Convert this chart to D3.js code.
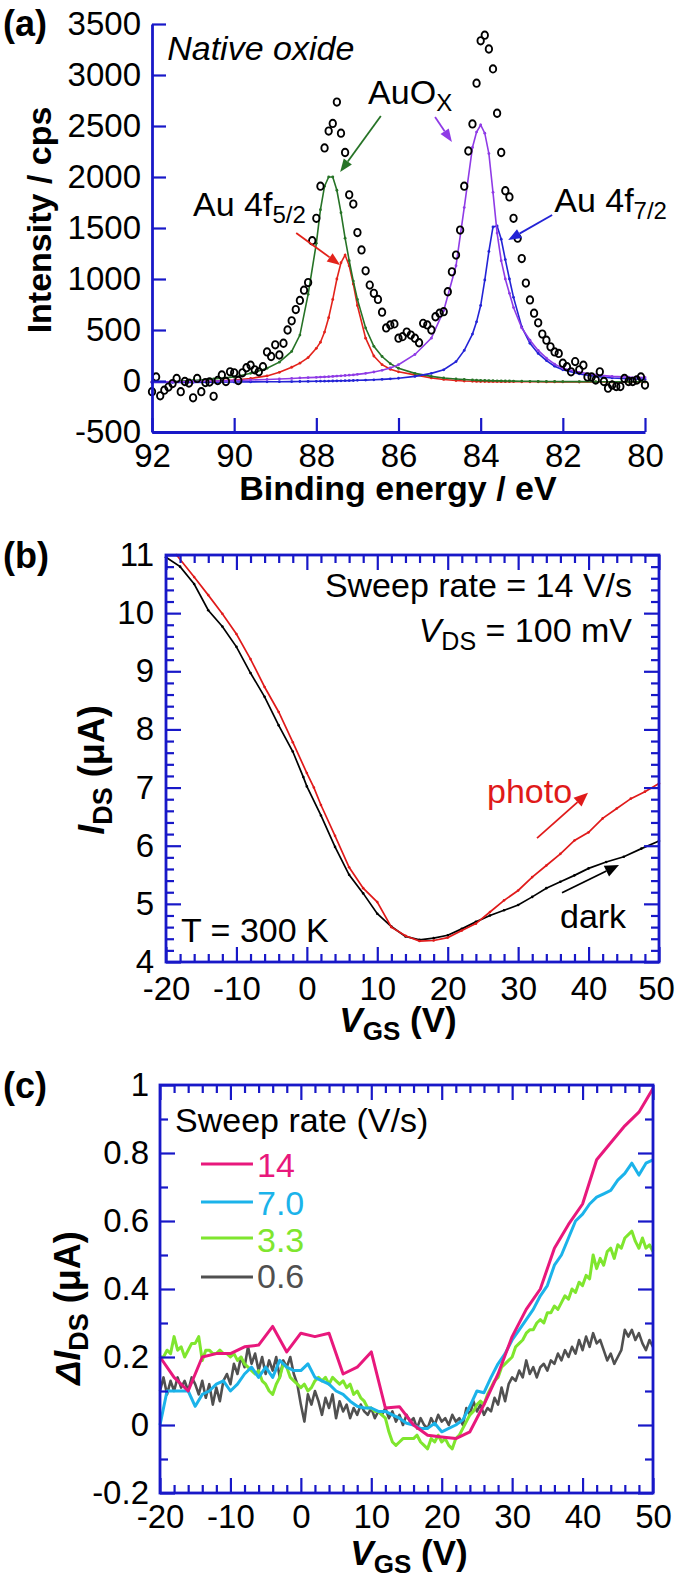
<!DOCTYPE html>
<html><head><meta charset="utf-8">
<script src="https://cdn.jsdelivr.net/npm/d3@7"></script>
<style>body{margin:0;background:#fff} svg{display:block} text{white-space:pre}</style>
</head><body>
<svg id="c" width="675" height="1580"></svg>
<script>
// ---------- Panel (a) data ----------
const aXTicks = [92, 90, 88, 86, 84, 82, 80];
const aYTicks = [-500, 0, 500, 1000, 1500, 2000, 2500, 3000, 3500];
const xpsStart = 92, xpsStep = -0.1;
const xpsCounts = [
  -105, 40, -145, -90, -60, -25, 25, -105, -5, -20,
  -165, 25, -105, -15, -10, -150, 5, 60, -5, 90,
  80, 5, 80, 130, 155, 110, 90, 140, 285, 240,
  355, 255, 370, 500, 590, 700, 790, 890, 965, 1375,
  1595, 1910, 2285, 2450, 2525, 2735, 2430, 2240, 1825, 1735,
  1455, 1285, 1080, 940, 860, 800, 675, 520, 550, 560,
  420, 435, 480, 450, 420, 375, 565, 550, 500, 630,
  665, 680, 875, 1070, 1235, 1480, 1910, 2255, 2520, 2920,
  3335, 3390, 3255, 3060, 2625, 2240, 1865, 1805, 1595, 1400,
  1200, 960, 795, 665, 570, 460, 400, 335, 285, 270,
  175, 140, 90, 190, 110, 155, 40, 40, 10, 90,
  -5, -70, -40, -55, -55, 25, -5, -5, 10, 40,
  -40];
const fitE = [92, 91.5, 91, 90.5, 90, 89.6, 89.2, 88.9, 88.6, 88.4, 88.2, 88.0, 87.9, 87.8, 87.7, 87.6, 87.5, 87.4, 87.3, 87.2, 87.1, 87.0, 86.8, 86.6, 86.4, 86.2, 86.0, 85.6, 85.2, 84.9, 84.6, 84.4, 84.2, 84.1, 84.0, 83.9, 83.8, 83.7, 83.6, 83.5, 83.4, 83.3, 83.2, 83.0, 82.8, 82.6, 82.4, 82.2, 82.0, 81.6, 81.2, 80.8, 80.4, 80.0];
const fitAuOx52 = [-10, -5, 5, 20, 40, 75, 125, 185, 290, 450, 850, 1350, 1680, 1910, 2000, 2000, 1870, 1650, 1400, 1180, 980, 800, 520, 340, 240, 170, 125, 75, 45, 30, 20, 15, 10, 8, 6, 5, 4, 3, 2, 1, 0, 0, -1, -2, -3, -4, -5, -5, -6, -6, -7, -7, -8, -8];
const fitAu52 = [-10, -8, -5, 0, 10, 25, 50, 85, 135, 175, 230, 320, 380, 480, 620, 800, 1000, 1160, 1235, 1130, 950, 740, 420, 245, 160, 115, 90, 60, 30, 15, 5, 0, -3, -4, -5, -5, -6, -6, -6, -7, -7, -7, -7, -8, -8, -8, -9, -9, -9, -10, -10, -10, -10, -10];
const fitAuOx72 = [-10, -8, -5, 0, 5, 10, 15, 20, 25, 30, 33, 36, 38, 40, 42, 45, 48, 51, 54, 57, 60, 65, 75, 88, 105, 128, 160, 260, 420, 690, 1130, 1700, 2290, 2440, 2510, 2430, 2230, 1850, 1450, 1180, 1000, 860, 720, 520, 400, 300, 225, 165, 125, 85, 60, 45, 38, 35];
const fitAu72 = [-15, -14, -13, -12, -10, -9, -8, -7, -6, -5, -4, -3, -2, -2, -1, 0, 1, 2, 3, 4, 5, 7, 9, 12, 16, 21, 27, 45, 75, 110, 190, 300, 460, 580, 740, 990, 1270, 1510, 1520, 1390, 1190, 1000, 820, 530, 370, 270, 200, 145, 110, 70, 45, 30, 22, 18];

// ---------- Panel (b) data ----------
const bXTicks = [-20, -10, 0, 10, 20, 30, 40, 50];
const bYTicks = [4, 5, 6, 7, 8, 9, 10, 11];
const darkV = [-20, -18, -16, -14, -12, -10, -8, -6, -4, -2, -0.5, 0, 2, 4, 6, 8, 10, 12, 14, 16, 18, 20, 22, 24, 26, 28, 30, 32, 34, 36, 38, 40, 42.5, 45, 47.5, 50];
const darkI = [10.96, 10.80, 10.50, 10.05, 9.77, 9.42, 8.97, 8.56, 8.07, 7.62, 7.18, 7.02, 6.52, 5.98, 5.50, 5.18, 4.83, 4.61, 4.44, 4.38, 4.41, 4.46, 4.57, 4.69, 4.80, 4.89, 4.98, 5.12, 5.27, 5.38, 5.49, 5.61, 5.72, 5.81, 5.95, 6.08];
const photoV = [-18.5, -16, -14, -12, -10, -8, -6, -4, -2, 0, 1, 2, 4, 6, 8, 10, 12, 14, 16, 18, 20, 22, 24, 26, 28, 30, 32, 34, 36, 38, 40, 42, 44, 46, 48, 50];
const photoI = [11.0, 10.62, 10.31, 9.99, 9.64, 9.21, 8.73, 8.30, 7.78, 7.25, 7.00, 6.70, 6.17, 5.63, 5.27, 5.03, 4.60, 4.45, 4.36, 4.37, 4.42, 4.54, 4.66, 4.86, 5.06, 5.23, 5.46, 5.66, 5.86, 6.09, 6.23, 6.47, 6.64, 6.81, 6.93, 7.07];

// ---------- Panel (c) data ----------
const cXTicks = [-20, -10, 0, 10, 20, 30, 40, 50];
const cYTicks = [-0.2, 0, 0.2, 0.4, 0.6, 0.8, 1];
const rateNames = ["14", "7.0", "3.3", "0.6"];
const rateColors = ["#e8187c", "#1bb3ea", "#7fe62e", "#505050"];
const rateStep = [2, 1, 0.5, 0.5];
const dI14 = [0.20, 0.14, 0.10, 0.20, 0.21, 0.21, 0.23, 0.235, 0.29, 0.215, 0.27, 0.26, 0.27, 0.15, 0.17, 0.215, 0.05, 0.054, 0.0, -0.03, -0.035, -0.04, -0.02, 0.06, 0.15, 0.26, 0.34, 0.40, 0.52, 0.59, 0.65, 0.78, 0.83, 0.88, 0.92, 0.99];
const dI7 = [0.00, 0.10, 0.10, 0.10, 0.10, 0.055, 0.09, 0.10, 0.12, 0.13,
  0.10, 0.12, 0.15, 0.17, 0.14, 0.17, 0.14, 0.19, 0.17, 0.16,
  0.16, 0.18, 0.14, 0.13, 0.12, 0.10, 0.09, 0.07, 0.055, 0.05,
  0.05, 0.04, 0.04, 0.03, 0.02, 0.005, 0.0, -0.01, -0.01, 0.005,
  -0.02, -0.01, 0.0, 0.015, 0.055, 0.10, 0.095, 0.14, 0.18, 0.21,
  0.25, 0.28, 0.31, 0.34, 0.38, 0.41, 0.47, 0.50, 0.55, 0.60,
  0.62, 0.65, 0.67, 0.68, 0.69, 0.72, 0.74, 0.77, 0.735, 0.77,
  0.78];
const dI33 = [0.20, 0.20, 0.22, 0.21, 0.26, 0.22, 0.23, 0.20, 0.22, 0.24,
  0.24, 0.26, 0.19, 0.22, 0.22, 0.21, 0.21, 0.22, 0.21, 0.21,
  0.20, 0.21, 0.19, 0.20, 0.18, 0.17, 0.16, 0.15, 0.16, 0.13,
  0.12, 0.10, 0.09, 0.12, 0.14, 0.18, 0.17, 0.14, 0.13, 0.12,
  0.11, 0.12, 0.10, 0.11, 0.13, 0.14, 0.13, 0.14, 0.12, 0.14,
  0.13, 0.12, 0.13, 0.11, 0.12, 0.09, 0.10, 0.08, 0.07, 0.05,
  0.05, 0.04, 0.04, 0.03, 0.02, -0.02, -0.05, -0.06, -0.05, -0.04,
  -0.04, -0.04, -0.04, -0.03, -0.05, -0.06, -0.07, -0.04, -0.05, -0.03,
  -0.05, -0.04, -0.06, -0.07, -0.04, -0.03, -0.01, 0.01, 0.03, 0.04,
  0.06, 0.07, 0.06, 0.09, 0.11, 0.13, 0.14, 0.17, 0.18, 0.19,
  0.20, 0.23, 0.24, 0.25, 0.27, 0.28, 0.28, 0.30, 0.31, 0.30,
  0.33, 0.33, 0.35, 0.34, 0.36, 0.38, 0.37, 0.40, 0.39, 0.42,
  0.41, 0.44, 0.43, 0.50, 0.46, 0.49, 0.47, 0.51, 0.52, 0.49,
  0.53, 0.52, 0.55, 0.56, 0.57, 0.54, 0.52, 0.55, 0.52, 0.53,
  0.51];
const dI06 = [0.10, 0.14, 0.09, 0.13, 0.10, 0.14, 0.11, 0.13, 0.10, 0.14,
  0.12, 0.09, 0.13, 0.08, 0.12, 0.06, 0.11, 0.07, 0.13, 0.15,
  0.12, 0.18, 0.15, 0.20, 0.17, 0.23, 0.18, 0.21, 0.16, 0.20,
  0.15, 0.19, 0.16, 0.20, 0.14, 0.19, 0.17, 0.20, 0.15, 0.12,
  0.06, 0.01, 0.09, 0.06, 0.10, 0.07, 0.03, 0.08, 0.05, 0.09,
  0.02, 0.07, 0.04, 0.06, 0.02, 0.05, 0.03, 0.06, 0.04, 0.03,
  0.05, 0.02, 0.04, 0.03, 0.05, 0.02, 0.04, 0.01, 0.03, 0.00,
  0.03, 0.01, 0.02, -0.01, 0.02, 0.00, -0.01, 0.02, 0.00, 0.03,
  0.01, 0.02, 0.00, 0.03, 0.01, 0.02, 0.00, 0.05, 0.03, 0.07,
  0.04, 0.06, 0.03, 0.05, 0.04, 0.08, 0.06, 0.11, 0.07, 0.12,
  0.14, 0.13, 0.16, 0.14, 0.19, 0.15, 0.17, 0.14, 0.17, 0.18,
  0.16, 0.19, 0.18, 0.21, 0.19, 0.22, 0.20, 0.23, 0.21, 0.25,
  0.22, 0.26, 0.23, 0.27, 0.24, 0.25, 0.22, 0.19, 0.21, 0.18,
  0.20, 0.22, 0.28, 0.26, 0.28, 0.25, 0.27, 0.24, 0.22, 0.25,
  0.23];
const rateSeries = [dI14, dI7, dI33, dI06];

// ---------- drawing ----------
const FONT = '"Liberation Sans", Arial, Helvetica, sans-serif';
const BLUE = '#1818c8';
const svg = d3.select('#c');

function styleAxis(g) {
  g.selectAll('line').attr('stroke', BLUE).attr('stroke-width', 2.2);
  g.select('.domain').attr('stroke', BLUE).attr('stroke-width', 2.8);
  g.selectAll('text').attr('fill', '#000').attr('font-size', 33).attr('font-family', FONT);
}
function txt(g, x, y, parts, o = {}) {
  const t = g.append('text').attr('x', x).attr('y', y)
    .attr('font-family', FONT).attr('font-size', o.size || 34)
    .attr('fill', o.fill || '#000').attr('text-anchor', o.anchor || 'start');
  if (o.weight) t.attr('font-weight', o.weight);
  if (o.italic) t.attr('font-style', 'italic');
  if (o.transform) t.attr('transform', o.transform);
  parts.forEach(p => {
    if (typeof p === 'string') p = { t: p };
    const s = t.append('tspan').text(p.t);
    if (p.size) s.attr('font-size', p.size);
    if (p.dy) s.attr('dy', p.dy);
    if (p.italic) s.attr('font-style', 'italic');
    if (p.normal) s.attr('font-style', 'normal');
  });
  return t;
}
function arrow(g, x1, y1, x2, y2, color, head = 13, w = 5) {
  const a = Math.atan2(y2 - y1, x2 - x1);
  const bx = x2 - head * Math.cos(a), by = y2 - head * Math.sin(a);
  g.append('line').attr('x1', x1).attr('y1', y1).attr('x2', bx).attr('y2', by)
    .attr('stroke', color).attr('stroke-width', 1.8);
  g.append('path').attr('d', `M${x2},${y2}L${bx + w * Math.sin(a)},${by - w * Math.cos(a)}L${bx - w * Math.sin(a)},${by + w * Math.cos(a)}Z`)
    .attr('fill', color);
}
function boxAxes(g, x, y, xMaj, xMin, yMaj, yMin, padL, padB) {
  const [x0, x1] = x.range(), [y0, y1] = y.range();
  const add = (axis, tr, labels) => {
    const a = g.append('g').attr('transform', tr).call(axis);
    a.select('.domain').remove();
    if (!labels) a.selectAll('text').remove();
    a.call(styleAxis);
    return a;
  };
  add(d3.axisLeft(y).tickValues(yMaj).tickSize(-15).tickPadding(padL).tickFormat(String), `translate(${x0},0)`, true);
  add(d3.axisLeft(y).tickValues(yMin).tickSize(-8), `translate(${x0},0)`, false);
  add(d3.axisRight(y).tickValues(yMaj).tickSize(-15), `translate(${x1},0)`, false);
  add(d3.axisRight(y).tickValues(yMin).tickSize(-8), `translate(${x1},0)`, false);
  const b = add(d3.axisBottom(x).tickValues(xMaj).tickSize(-15).tickPadding(padB).tickFormat(String), `translate(0,${y0})`, true);
  // keep the last label inside the page
  b.selectAll('.tick').filter(d => x(d) + 19 > 675).select('text').attr('dx', d => 675 - 19 - x(d));
  add(d3.axisBottom(x).tickValues(xMin).tickSize(-8), `translate(0,${y0})`, false);
  add(d3.axisTop(x).tickValues(xMaj).tickSize(-15), `translate(0,${y1})`, false);
  add(d3.axisTop(x).tickValues(xMin).tickSize(-8), `translate(0,${y1})`, false);
  g.append('rect').attr('x', x0).attr('y', y1).attr('width', x1 - x0).attr('height', y0 - y1)
    .attr('fill', 'none').attr('stroke', BLUE).attr('stroke-width', 2.8);
}

// ===== Panel (a) =====
const xA = d3.scaleLinear().domain([92, 80]).range([152, 645]);
const yA = d3.scaleLinear().domain([-500, 3500]).range([432, 24]);
const gA = svg.append('g');
const fits = [
  { v: fitAu52, c: '#e3231b' },
  { v: fitAuOx52, c: '#267326' },
  { v: fitAu72, c: '#2323d6' },
  { v: fitAuOx72, c: '#8f3be6' }
];
fits.forEach(f => {
  const pts = fitE.map((e, i) => [e, f.v[i]]);
  gA.append('path').attr('d', d3.line().x(d => xA(d[0])).y(d => yA(d[1]))(pts))
    .attr('fill', 'none').attr('stroke', f.c).attr('stroke-width', 1.6);
  gA.selectAll(null).data(pts).enter().append('circle')
    .attr('cx', d => xA(d[0])).attr('cy', d => yA(d[1])).attr('r', 1.4).attr('fill', f.c);
});
gA.selectAll(null).data(xpsCounts).enter().append('ellipse')
  .attr('cx', (d, i) => xA(xpsStart + i * xpsStep)).attr('cy', d => yA(d))
  .attr('rx', 3.2).attr('ry', 3.7).attr('fill', 'none').attr('stroke', '#000').attr('stroke-width', 1.9);
gA.append('g').attr('transform', 'translate(152,0)')
  .call(d3.axisLeft(yA).tickValues(aYTicks).tickSize(-14).tickSizeOuter(0).tickPadding(11).tickFormat(String)).call(styleAxis);
gA.append('g').attr('transform', 'translate(0,432)')
  .call(d3.axisBottom(xA).tickValues(aXTicks).tickSize(-14).tickSizeOuter(0).tickPadding(12).tickFormat(String)).call(styleAxis);
txt(gA, 398, 500, ['Binding energy / eV'], { weight: 'bold', anchor: 'middle' });
txt(gA, 0, 0, ['Intensity / cps'], { weight: 'bold', anchor: 'middle', transform: 'translate(51,220) rotate(-90)' });
txt(gA, 3, 36, ['(a)'], { weight: 'bold', size: 36 });
txt(gA, xA(91.63), yA(3147), ['Native oxide'], { italic: true });
txt(gA, xA(86.74), yA(2716), ['AuO', { t: 'X', size: 24, dy: 7 }]);
txt(gA, xA(91.0), yA(1618), ['Au 4f', { t: '5/2', size: 24, dy: 7 }]);
txt(gA, xA(82.21), yA(1657), ['Au 4f', { t: '7/2', size: 24, dy: 7 }]);
arrow(gA, xA(86.43), yA(2598), xA(87.42), yA(2049), '#267326');
arrow(gA, xA(85.11), yA(2588), xA(84.70), yA(2343), '#8f3be6');
arrow(gA, xA(88.49), yA(1451), xA(87.42), yA(1137), '#e3231b');
arrow(gA, xA(82.26), yA(1627), xA(83.33), yA(1382), '#2323d6');

// ===== Panel (b) =====
const xB = d3.scaleLinear().domain([-20, 50]).range([166, 659]);
const yB = d3.scaleLinear().domain([4, 11]).range([962, 555]);
const gB = svg.append('g');
const bSeries = [
  { v: darkV, i: darkI, c: '#000' },
  { v: photoV, i: photoI, c: '#e01a1a' }
];
bSeries.forEach(s => {
  const pts = s.v.map((v, k) => [v, s.i[k]]);
  gB.append('path').attr('d', d3.line().x(d => xB(d[0])).y(d => yB(d[1]))(pts))
    .attr('fill', 'none').attr('stroke', s.c).attr('stroke-width', 1.7);
  gB.selectAll(null).data(pts).enter().append('circle')
    .attr('cx', d => xB(d[0])).attr('cy', d => yB(d[1])).attr('r', 1.3).attr('fill', s.c);
});
boxAxes(gB, xB, yB, bXTicks, d3.range(-18, 50, 2).filter(v => v % 10 !== 0), bYTicks,
  d3.range(4.2, 11, 0.2).filter(v => Math.abs(v - Math.round(v)) > 0.05), 12, 15);
txt(gB, 3, 568, ['(b)'], { weight: 'bold', size: 36 });
txt(gB, 398, 1032, [{ t: 'V', italic: true }, { t: 'GS', size: 26, dy: 8 }, { t: ' (V)', dy: -8 }], { weight: 'bold', anchor: 'middle', size: 35 });
txt(gB, 0, 0, [{ t: 'I', italic: true }, { t: 'DS', size: 27, dy: 8 }, { t: ' (μA)', dy: -8 }], { weight: 'bold', anchor: 'middle', size: 36, transform: 'translate(104,770) rotate(-90)' });
txt(gB, xB(46.17), yB(10.28), ['Sweep rate = 14 V/s'], { anchor: 'end' });
txt(gB, xB(46.17), yB(9.50), [{ t: 'V', italic: true }, { t: 'DS', size: 25, dy: 8 }, { t: ' = 100 mV', dy: -8 }], { anchor: 'end' });
txt(gB, xB(-17.87), yB(4.34), ['T = 300 K']);
txt(gB, xB(25.58), yB(6.73), ['photo'], { fill: '#e01a1a' });
txt(gB, xB(35.94), yB(4.58), ['dark']);
arrow(gB, xB(32.68), yB(6.13), xB(39.92), yB(6.91), '#e01a1a', 14, 6);
arrow(gB, xB(36.23), yB(5.19), xB(44.32), yB(5.67), '#000', 14, 6);

// ===== Panel (c) =====
const xC = d3.scaleLinear().domain([-20, 50]).range([160, 653]);
const yC = d3.scaleLinear().domain([-0.2, 1]).range([1493, 1085]);
const gC = svg.append('g');
[3, 2, 1, 0].forEach(k => {
  const pts = rateSeries[k].map((v, i) => [-20 + i * rateStep[k], v]);
  gC.append('path').attr('d', d3.line().x(d => xC(d[0])).y(d => yC(d[1]))(pts))
    .attr('fill', 'none').attr('stroke', rateColors[k]).attr('stroke-width', k === 3 ? 2.6 : 3)
    .attr('stroke-linejoin', 'round');
});
boxAxes(gC, xC, yC, cXTicks, d3.range(-18, 50, 2).filter(v => v % 10 !== 0), cYTicks,
  [-0.1, 0.1, 0.3, 0.5, 0.7, 0.9], 11, 12);
txt(gC, 3, 1098, ['(c)'], { weight: 'bold', size: 36 });
txt(gC, 409, 1565, [{ t: 'V', italic: true }, { t: 'GS', size: 26, dy: 8 }, { t: ' (V)', dy: -8 }], { weight: 'bold', anchor: 'middle', size: 35 });
txt(gC, 0, 0, [{ t: 'ΔI', italic: true }, { t: 'DS', size: 27, dy: 8 }, { t: ' (μA)', dy: -8 }], { weight: 'bold', anchor: 'middle', size: 36, transform: 'translate(80,1308) rotate(-90)' });
txt(gC, xC(-17.87), yC(0.862), ['Sweep rate (V/s)']);
const legY = [0.768, 0.656, 0.55, 0.435];
const legT = [0.729, 0.618, 0.509, 0.403];
rateNames.forEach((n, k) => {
  gC.append('line').attr('x1', xC(-14.18)).attr('x2', xC(-6.8)).attr('y1', yC(legY[k])).attr('y2', yC(legY[k]))
    .attr('stroke', rateColors[k]).attr('stroke-width', 3);
  txt(gC, xC(-6.23), yC(legT[k]), [n], { fill: rateColors[k] });
});
</script></body></html>
